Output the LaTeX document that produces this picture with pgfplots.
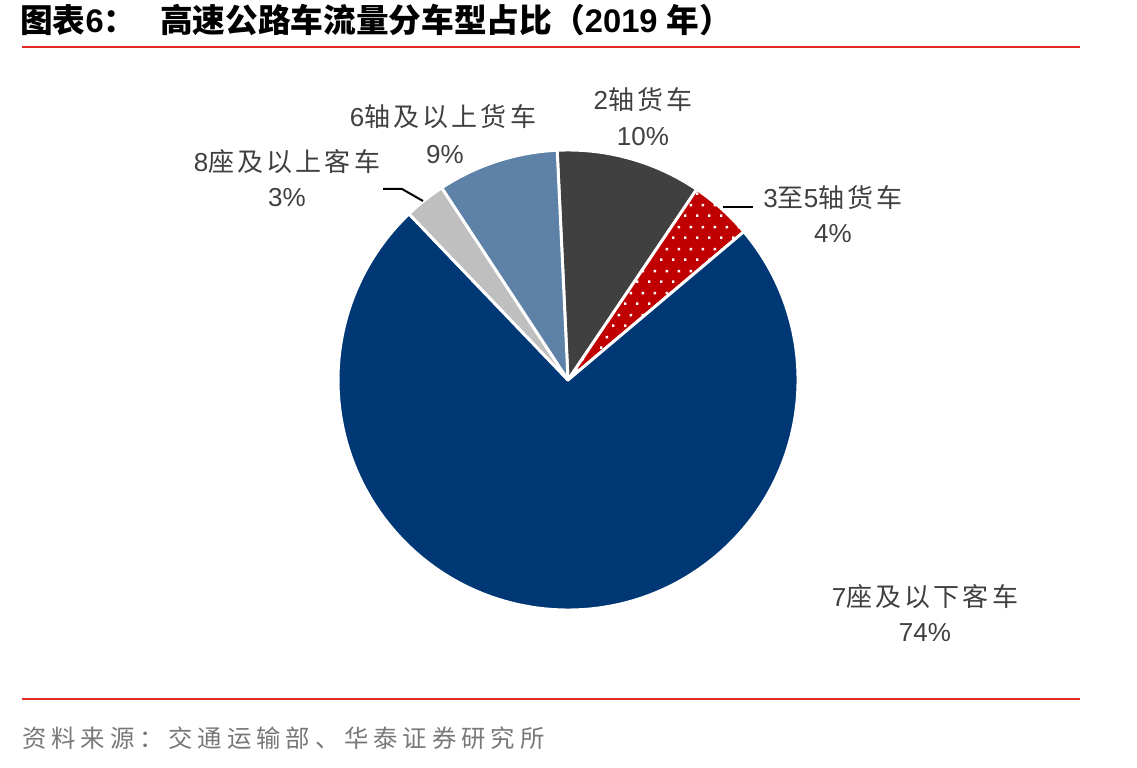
\documentclass[border=0pt]{standalone}
\usepackage{pgfplots}
\pgfplotsset{compat=1.18}
\usepackage{pgfplotstable}
\usepackage{fontspec}
\setmainfont{Liberation Sans}
\newfontfamily\cjk{Noto Sans CJK SC}
\newfontfamily\cjkl[LetterSpace=12]{Noto Sans CJK SC}
\newfontfamily\cjks[LetterSpace=20]{Noto Sans CJK SC}
\usetikzlibrary{patterns.meta}

\definecolor{navy}{RGB}{0,56,118}
\definecolor{dgray}{RGB}{64,64,64}
\definecolor{steel}{RGB}{94,129,168}
\definecolor{lgray}{RGB}{191,191,191}
\definecolor{sred}{RGB}{192,0,0}
\definecolor{tgray}{RGB}{64,64,64}
\definecolor{lred}{RGB}{226,45,38}
\definecolor{srcgray}{RGB}{120,120,120}

\tikzdeclarepattern{
  name=whitedots,
  type=colored,
  bottom left={(0pt,0pt)},
  top right={(9pt,16.5pt)},
  tile size={(9pt,16.5pt)},
  code={
    \fill[white] (0pt,0pt) rectangle (2pt,2pt);
    \fill[white] (4.5pt,8.25pt) rectangle (6.5pt,10.25pt);
  }
}

\pgfplotstableread{
name value
2axle 10.2
3to5axle 4.4
7seat 74.0
8seat 2.9
6axle 8.5
}\piedata

\tikzset{
  slice0/.style={fill=dgray},
  slice1/.style={preaction={fill=sred}, pattern=whitedots},
  slice2/.style={fill=navy},
  slice3/.style={fill=lgray},
  slice4/.style={fill=steel},
  lab/.style={text=tgray, font=\fontsize{19.5}{23}\selectfont, inner sep=0pt, anchor=center},
}

\begin{document}
\begin{tikzpicture}
\begin{axis}[x=0.75pt, y=0.75pt, xmin=0, xmax=1137, ymin=0, ymax=767,
  hide axis, clip=false]
\pgfplotsextra{%
  \path (axis cs:0,0) rectangle (axis cs:1137,767);
  \gdef\curang{92.7}%
  \foreach \i in {0,...,4}{%
    \pgfplotstablegetelem{\i}{value}\of\piedata
    \pgfmathsetmacro\endang{\curang-3.6*\pgfplotsretval}%
    \path[slice\i, draw=white, line width=2.2pt, line join=round]
      (axis cs:568,387) -- ++(\curang:172.5pt)
      arc[start angle=\curang, end angle=\endang, radius=172.5pt] -- cycle;
    \xdef\curang{\endang}%
  }%
  % title
  \node[anchor=base west, inner sep=0pt, font=\fontsize{24.5}{28}\selectfont\bfseries]
    at (axis cs:20,734) {{\cjk 图表}6{\cjk ：}};
  \node[anchor=base west, inner sep=0pt, font=\fontsize{24.5}{28}\selectfont\bfseries]
    at (axis cs:160,734) {{\cjk 高速公路车流量分车型占比（}2019 {\cjk 年）}};
  \draw[lred, line width=1.6pt] (axis cs:22,720) -- (axis cs:1080,720);
  \draw[lred, line width=1.6pt] (axis cs:22,68) -- (axis cs:1080,68);
  \node[anchor=west, inner sep=0pt, text=srcgray, font=\fontsize{18.3}{22}\selectfont\cjks]
    at (axis cs:22,29) {资料来源：交通运输部、华泰证券研究所};
  % labels
  \node[lab] at (axis cs:643,667) {2{\cjkl 轴货车}};
  \node[lab] at (axis cs:643,630) {10\%};
  \node[lab] at (axis cs:443,650) {6{\cjkl 轴及以上货车}};
  \node[lab] at (axis cs:445,612) {9\%};
  \node[lab] at (axis cs:287,605) {8{\cjkl 座及以上客车}};
  \node[lab] at (axis cs:287,569) {3\%};
  \node[lab] at (axis cs:833,569) {3{\cjkl 至}5{\cjkl 轴货车}};
  \node[lab] at (axis cs:833,533) {4\%};
  \node[lab] at (axis cs:925,170) {7{\cjkl 座及以下客车}};
  \node[lab] at (axis cs:925,134) {74\%};
  % leader lines
  \draw[black, line width=1.5pt] (axis cs:723,560) -- (axis cs:753,560);
  \draw[black, line width=1.5pt] (axis cs:383,578) -- (axis cs:402,578) -- (axis cs:423,566);
}
\end{axis}
\end{tikzpicture}
\end{document}
